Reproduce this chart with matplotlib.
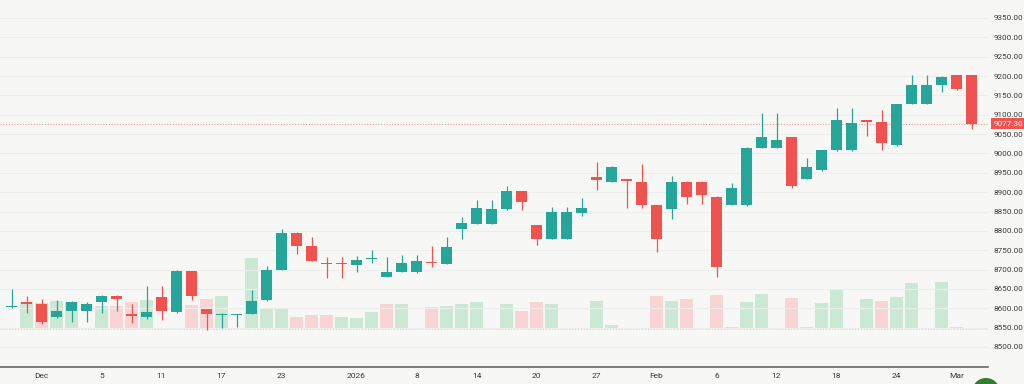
import numpy as np
import matplotlib
matplotlib.use('Agg')
import matplotlib.pyplot as plt
from matplotlib.patches import Circle
from matplotlib.transforms import blended_transform_factory

plt.rcParams['font.family'] = ['Roboto', 'DejaVu Sans']

# daily candles, Nov 27 2025 .. Mar 3 2026 (trading days only)
opens = [8603, 8615, 8612, 8578, 8593, 8593, 8616, 8633, 8584, 8578,
         8630, 8590, 8696, 8597, 8583, 8582, 8586, 8621, 8699, 8795,
         8760, 8718, 8718, 8713, 8727, 8681, 8694, 8694, 8719, 8715,
         8806, 8819, 8819, 8857, 8903, 8815, 8780, 8780, 8847, 8940,
         8926, 8933, 8927, 8867, 8857, 8927, 8927, 8888, 8868, 8866,
         9014, 9014, 9042, 8935, 8956, 9008, 9008, 9086, 9081, 9021,
         9128, 9128, 9176, 9202, 9202]
highs = [8649, 8633, 8625, 8621, 8618, 8617, 8634, 8634, 8610, 8657,
         8657, 8700, 8697, 8598, 8587, 8585, 8647, 8709, 8805, 8796,
         8784, 8732, 8733, 8736, 8750, 8733, 8737, 8737, 8760, 8785,
         8836, 8881, 8881, 8916, 8904, 8816, 8862, 8862, 8885, 8978,
         8967, 8934, 8972, 8868, 8941, 8928, 8928, 8889, 8924, 9016,
         9105, 9105, 9043, 8987, 9010, 9118, 9118, 9087, 9112, 9129,
         9202, 9202, 9199, 9203, 9203]
lows = [8602, 8588, 8560, 8575, 8564, 8564, 8588, 8593, 8561, 8573,
        8571, 8589, 8621, 8545, 8550, 8552, 8584, 8620, 8699, 8741,
        8722, 8678, 8679, 8695, 8718, 8680, 8693, 8692, 8707, 8714,
        8778, 8818, 8818, 8854, 8854, 8763, 8779, 8779, 8838, 8905,
        8925, 8858, 8860, 8745, 8831, 8870, 8870, 8681, 8867, 8865,
        9013, 9013, 8910, 8934, 8955, 9007, 9007, 9045, 9009, 9020,
        9127, 9127, 9158, 9163, 9062]
closes = [8607, 8611, 8565, 8593, 8617, 8610, 8633, 8623, 8579, 8591,
          8593, 8696, 8633, 8584, 8586, 8584, 8620, 8699, 8795, 8760,
          8723, 8714, 8714, 8726, 8729, 8694, 8718, 8722, 8716, 8759,
          8821, 8860, 8857, 8903, 8874, 8780, 8848, 8848, 8858, 8932,
          8966, 8928, 8867, 8778, 8927, 8887, 8892, 8706, 8911, 9015,
          9042, 9034, 8916, 8966, 9008, 9086, 9079, 9081, 9026, 9128,
          9176, 9176, 9198, 9166, 9077.3]
volumes = [0, 267, 260, 283, 275, 0, 233, 230, 267, 290,
           0, 0, 240, 300, 333, 0, 713, 207, 197, 117,
           140, 140, 117, 107, 173, 247, 247, 0, 223, 230,
           247, 270, 0, 253, 180, 270, 253, 0, 0, 283,
           40, 0, 0, 333, 283, 300, 0, 340, 23, 267,
           350, 0, 313, 17, 263, 400, 0, 303, 283, 323,
           463, 0, 473, 23, 0]
vol_up = [0, 1, 0, 1, 1, 0, 1, 0, 0, 1,
          0, 0, 0, 0, 1, 0, 1, 1, 1, 0,
          0, 0, 1, 1, 1, 0, 1, 0, 0, 1,
          1, 1, 0, 1, 0, 0, 1, 0, 0, 1,
          1, 0, 0, 0, 1, 0, 0, 0, 1, 1,
          1, 0, 0, 1, 1, 1, 0, 1, 0, 1,
          1, 0, 1, 0, 0]

tick_pos = [2, 6, 10, 14, 18, 23, 27, 31, 35, 39, 43, 47, 51, 55, 59, 63]
tick_labels = ['Dec', '5', '11', '17', '23', '2026', '8', '14', '20', '27',
               'Feb', '6', '12', '18', '24', 'Mar']
price_ticks = np.arange(8500, 9351, 50)

bg = '#f7f8f6'
up_col = '#26a69a'
down_col = '#ef5350'
vol_up_col = '#cbe8d5'
vol_down_col = '#f8d4d4'
txt_col = '#3a3a3a'

fig = plt.figure(figsize=(10.24, 3.84), dpi=100, facecolor=bg)
ax = fig.add_axes([0, 17 / 384, 988 / 1024, 367 / 384])
axv = ax.twinx()

x = np.arange(len(opens))
o = np.array(opens)
h = np.array(highs)
l = np.array(lows)
c = np.array(closes)

# volume pane
axv.set_facecolor(bg)
vcol = [vol_up_col if u else vol_down_col for u in vol_up]
axv.bar(x, volumes, width=0.93, color=vcol, edgecolor='none')
axv.axhline(0, color='#f4bcbc', lw=0.7, ls=(0, (1, 2)))
axv.set_ylim(-380, 3290)
axv.set_yticks([])
for s in axv.spines.values():
    s.set_visible(False)

ax.set_zorder(axv.get_zorder() + 1)
ax.patch.set_visible(False)

# candles
is_up = c >= o
ccol = np.where(is_up, up_col, down_col)
body_lo = np.minimum(o, c)
body_h = np.maximum(np.abs(c - o), 2.6)
ax.vlines(x, l, h, colors=ccol, lw=0.9, zorder=2)
ax.bar(x, body_h, bottom=body_lo, width=0.73, color=ccol, edgecolor='none', zorder=3)

# last price line and label
last = closes[-1]
ax.axhline(last, color='#f39b97', lw=0.8, ls=(0, (1, 1.5)), zorder=1)
trans = blended_transform_factory(ax.transAxes, ax.transData)
ax.text(1.006, last, f'{last:.2f}', transform=trans, va='center', ha='left',
        fontsize=5.9, color='white', clip_on=False,
        bbox=dict(boxstyle='square,pad=0.3', fc='#f05350', ec='none'))

ax.set_ylim(8448.3, 9396.5)
ax.set_xlim(-11.5 / 15, (988 - 11.5) / 15)
ax.set_yticks(price_ticks)
ax.set_yticklabels([f'{v:.2f}' for v in price_ticks])
ax.yaxis.tick_right()
ax.tick_params(axis='y', length=0, pad=4, labelsize=5.9, labelcolor=txt_col)
ax.grid(axis='y', color='#eceeec', lw=0.8)
ax.set_xticks(tick_pos)
ax.set_xticklabels(tick_labels)
ax.tick_params(axis='x', length=0, pad=4, labelsize=6, labelcolor=txt_col)
for side in ['top', 'left', 'right']:
    ax.spines[side].set_visible(False)
ax.spines['bottom'].set_color('#5a5a5a')
ax.spines['bottom'].set_linewidth(1.1)

# round button peeking in at the bottom right
fig.patches.append(Circle((9.86, -0.08), 0.14, transform=fig.dpi_scale_trans,
                          fc='#2e7d32', ec='none'))

fig.savefig('out.png', dpi=100, facecolor=bg)
